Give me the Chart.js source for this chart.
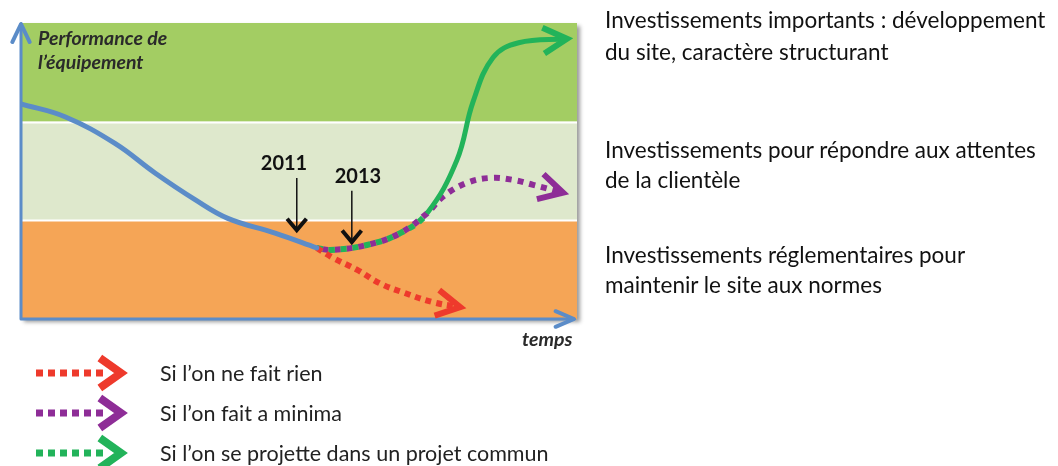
<!DOCTYPE html>
<html lang="fr">
<head>
<meta charset="utf-8">
<script src="https://cdn.jsdelivr.net/npm/chart.js@4"></script>
<style>
  html, body { margin: 0; padding: 0; background: #fff; }
  body { width: 1058px; height: 466px; position: relative; overflow: hidden; font-family: Lato, "Open Sans", sans-serif; }
  #wrap { position: absolute; left: 0; top: 0; width: 1058px; height: 466px; }
  .note { position: absolute; left: 605px; font-size: 22.5px; line-height: 30px; color: #111; white-space: nowrap; }
  .leg { position: absolute; left: 160px; font-size: 21.5px; line-height: 26px; color: #222; white-space: nowrap; }
  .ytitle { position: absolute; left: 38px; top: 26px; font-size: 19.5px; line-height: 24px; font-style: italic; font-weight: bold; color: #2a2a2a; }
  .xtitle { position: absolute; left: 522px; top: 327px; font-size: 19.5px; line-height: 24px; font-style: italic; font-weight: bold; color: #2a2a2a; }
</style>
</head>
<body>
<div id="wrap"><canvas id="chart" width="1058" height="466"></canvas></div>
<div class="ytitle">Performance de<br>l’équipement</div>
<div class="xtitle">temps</div>
<div id="notes"></div>
<div id="legend"></div>
<script>
// bands of the y axis (value units), bottom to top
const bandEdges = [0, 1, 2, 3];
const bandColors = ['#F5A556', '#DEE8CC', '#A3CD63'];

// texts on the right, one per band (top to bottom)
const notes = [
  ['Investissements importants : développement', 'du site, caractère structurant'],
  ['Investissements pour répondre aux attentes', 'de la clientèle'],
  ['Investissements réglementaires pour', 'maintenir le site aux normes']
];

// past trend
const pastX = [0, 7.9, 16.9, 24.1, 31.3, 37.2, 45.7, 53.2];
const pastY = [2.18, 2.05, 1.78, 1.48, 1.21, 1.02, 0.87, 0.72];

// scenarios
const scenarioLabels = ['Si l’on ne fait rien', 'Si l’on fait a minima', 'Si l’on se projette dans un projet commun'];
const scenarioColors = ['#EE3A2C', '#8E2D97', '#22B35A'];
const nothingX = [53.2, 56.1, 60.4, 64.6, 68.7, 74.1, 79];
const nothingY = [0.72, 0.62, 0.50, 0.36, 0.27, 0.17, 0.12];
const minimumX = [53.2, 55.6, 62.2, 68.2, 73, 75.9, 80.2, 84.5, 88.5, 92.1, 97.5];
const minimumY = [0.72, 0.70, 0.75, 0.87, 1.07, 1.24, 1.38, 1.43, 1.41, 1.36, 1.28];
const projectX = [53.2, 55.6, 62.2, 68.2, 73, 78.4, 81.3, 84.9, 89.5, 98.2];
const projectY = [0.72, 0.70, 0.75, 0.87, 1.07, 1.61, 2.20, 2.65, 2.80, 2.84];

// milestones
const yearLabels = ['2011', '2013'];
const yearLabelX = [47.3, 60.6];
const yearX = [49.6, 59.5];
const yearFrom = [1.43, 1.30];
const yearTo = [0.90, 0.78];

function pts(xs, ys) {
  return xs.map((x, i) => ({ x: x, y: ys[i] }));
}

// html texts
const notesEl = document.getElementById('notes');
const noteTops = [5, 135, 240];
notes.forEach((lines, i) => {
  lines.forEach((t, j) => {
    const d = document.createElement('div');
    d.className = 'note';
    d.style.top = (noteTops[i] + j * (i === 0 ? 32 : 30)) + 'px';
    d.textContent = t;
    notesEl.appendChild(d);
  });
});
const legendEl = document.getElementById('legend');
scenarioLabels.forEach((t, i) => {
  const d = document.createElement('div');
  d.className = 'leg';
  d.style.top = (360 + i * 40) + 'px';
  d.textContent = t;
  legendEl.appendChild(d);
});

function chevron(ctx, tx, ty, angle, len, spread) {
  ctx.beginPath();
  ctx.moveTo(tx - len * Math.cos(angle - spread), ty - len * Math.sin(angle - spread));
  ctx.lineTo(tx, ty);
  ctx.lineTo(tx - len * Math.cos(angle + spread), ty - len * Math.sin(angle + spread));
  ctx.stroke();
}

const scenePlugin = {
  id: 'scene',
  beforeDatasetsDraw(chart) {
    const { ctx, chartArea: a, scales: { x, y } } = chart;
    ctx.save();
    ctx.shadowColor = 'rgba(0,0,0,0.4)';
    ctx.shadowBlur = 4;
    ctx.shadowOffsetX = 3;
    ctx.shadowOffsetY = 3;
    ctx.fillStyle = '#fff';
    ctx.fillRect(a.left, a.top, a.width, a.height);
    ctx.restore();

    ctx.save();
    bandColors.forEach((c, i) => {
      const top = y.getPixelForValue(bandEdges[i + 1]);
      const bot = y.getPixelForValue(bandEdges[i]);
      ctx.fillStyle = c;
      ctx.fillRect(a.left, top, a.width, bot - top);
    });
    ctx.strokeStyle = '#fff';
    ctx.lineWidth = 2;
    bandEdges.slice(1, -1).forEach(v => {
      const py = Math.round(y.getPixelForValue(v)) + 0.5;
      ctx.beginPath();
      ctx.moveTo(a.left, py);
      ctx.lineTo(a.right, py);
      ctx.stroke();
    });

    // axes
    ctx.strokeStyle = '#5B8CC8';
    ctx.lineWidth = 3;
    ctx.lineCap = 'round';
    ctx.lineJoin = 'round';
    ctx.beginPath();
    ctx.moveTo(a.left, a.bottom);
    ctx.lineTo(a.left, a.top + 1);
    ctx.moveTo(a.left, a.bottom);
    ctx.lineTo(a.right - 3, a.bottom);
    ctx.stroke();
    ctx.lineWidth = 4;
    chevron(ctx, a.left, a.top + 1, -Math.PI / 2, 20, 0.45);
    chevron(ctx, a.right - 3, a.bottom, 0, 20, 0.4);

    // milestones
    ctx.fillStyle = '#111';
    ctx.strokeStyle = '#111';
    ctx.font = 'bold 20px Lato, sans-serif';
    ctx.textAlign = 'center';
    ctx.textBaseline = 'bottom';
    yearLabels.forEach((lab, i) => {
      const px = x.getPixelForValue(yearX[i]);
      const p0 = y.getPixelForValue(yearFrom[i]);
      const p1 = y.getPixelForValue(yearTo[i]);
      ctx.fillText(lab, x.getPixelForValue(yearLabelX[i]), p0 - 4);
      ctx.lineWidth = 1.5;
      ctx.lineCap = 'butt';
      ctx.beginPath();
      ctx.moveTo(px, p0);
      ctx.lineTo(px, p1 - 3);
      ctx.stroke();
      ctx.lineWidth = 4;
      ctx.lineJoin = 'miter';
      chevron(ctx, px, p1, Math.PI / 2, 15, 0.7);
    });
    ctx.restore();
  },
  afterDatasetsDraw(chart) {
    const { ctx } = chart;
    ctx.save();
    chart.data.datasets.forEach((ds, i) => {
      if (!ds.arrowHead) return;
      const meta = chart.getDatasetMeta(i);
      const n = meta.data.length;
      const last = meta.data[n - 1];
      let cx = last.cp1x, cy = last.cp1y;
      if (cx === undefined || (Math.abs(cx - last.x) < 0.5 && Math.abs(cy - last.y) < 0.5)) {
        cx = meta.data[n - 2].x;
        cy = meta.data[n - 2].y;
      }
      const ang = Math.atan2(last.y - cy, last.x - cx);
      ctx.strokeStyle = ds.borderColor;
      ctx.lineWidth = 6;
      ctx.lineCap = 'butt';
      ctx.lineJoin = 'miter';
      chevron(ctx, last.x, last.y, ang, 27, 0.5);
    });

    // legend samples
    scenarioColors.forEach((c, i) => {
      const cy = 373 + i * 40;
      ctx.strokeStyle = c;
      ctx.lineWidth = 7;
      ctx.lineCap = 'butt';
      ctx.setLineDash([7, 5]);
      ctx.beginPath();
      ctx.moveTo(36, cy);
      ctx.lineTo(103, cy);
      ctx.stroke();
      ctx.setLineDash([]);
      ctx.lineWidth = 8;
      ctx.lineJoin = 'miter';
      chevron(ctx, 121, cy, 0, 26, 0.62);
    });
    ctx.restore();
  }
};

new Chart(document.getElementById('chart'), {
  type: 'line',
  data: {
    datasets: [
      {
        label: 'Tendance',
        data: pts(pastX, pastY),
        borderColor: '#5B8CC8',
        borderWidth: 5,
        borderCapStyle: 'round'
      },
      {
        label: scenarioLabels[0],
        data: pts(nothingX, nothingY),
        borderColor: scenarioColors[0],
        borderWidth: 6,
        borderDash: [6, 5],
        arrowHead: true
      },
      {
        label: scenarioLabels[2],
        data: pts(projectX, projectY),
        borderColor: scenarioColors[2],
        borderWidth: 5,
        borderDash: [],
        segment: {
          borderDash: ctx => ctx.p0DataIndex < 4 ? [6, 6] : undefined,
          borderWidth: ctx => ctx.p0DataIndex < 4 ? 6 : undefined
        },
        arrowHead: true
      },
      {
        label: scenarioLabels[1],
        data: pts(minimumX, minimumY),
        borderColor: scenarioColors[1],
        borderWidth: 6,
        borderDash: [6, 6],
        borderDashOffset: 6,
        arrowHead: true
      }
    ]
  },
  options: {
    animation: false,
    responsive: false,
    layout: { padding: { left: 21, top: 23, right: 481, bottom: 147 } },
    elements: {
      point: { radius: 0 },
      line: { tension: 0.4, borderCapStyle: 'butt' }
    },
    scales: {
      x: { type: 'linear', min: 0, max: 100, display: false },
      y: { type: 'linear', min: bandEdges[0], max: bandEdges[bandEdges.length - 1], display: false }
    },
    plugins: {
      legend: { display: false },
      tooltip: { enabled: false }
    }
  },
  plugins: [scenePlugin]
});
</script>
</body>
</html>
